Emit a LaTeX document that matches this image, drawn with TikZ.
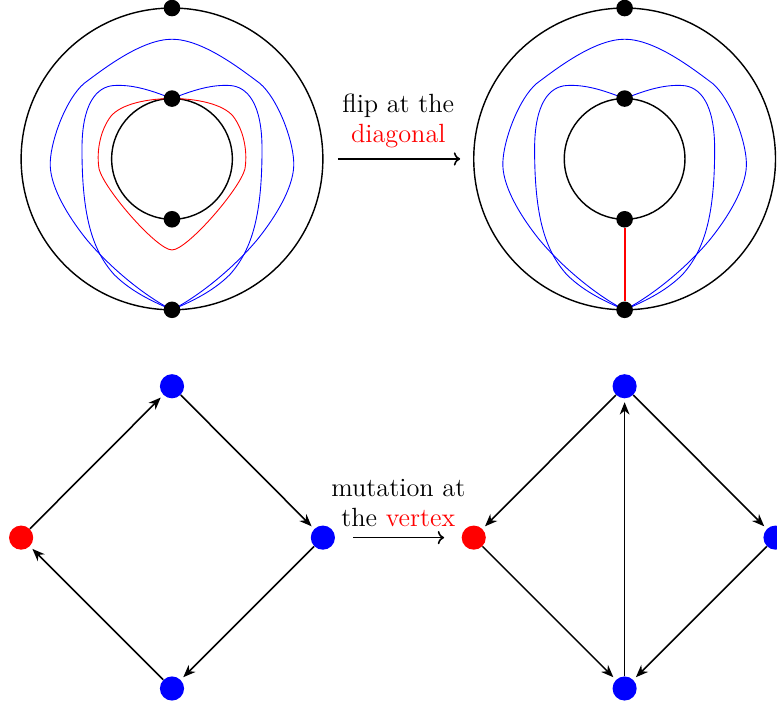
\documentclass[tikz,border=0pt]{standalone}
\usetikzlibrary{arrows.meta}
\tikzset{
  dot/.style={circle, fill=black, inner sep=0pt, minimum size=3.3mm},
  vtx/.style={circle, fill=blue, inner sep=0pt, minimum size=4.8mm},
  strand/.style={line width=0.5pt},
  quiv/.style={line width=0.9pt, -{Stealth[length=7pt, width=5.5pt, inset=2.2pt]}, shorten >=2pt},
  lbl/.style={align=center, inner sep=6pt, font=\fontsize{14.9}{17}\selectfont},
}

\begin{document}
\begin{tikzpicture}
  \useasboundingbox (-3.42,-10.89) rectangle (12.03,3.16);
  % Two annuli with the blue arcs
  \foreach \cx in {0,9} {
    \begin{scope}[shift={(\cx,0)}]
      \draw[thick] (0,0) circle (3cm);
      \draw[thick] (0,0) circle (1.2cm);
      \foreach \sx in {1,-1} {
        \begin{scope}[xscale=\sx]
          % outer arc
          \draw[blue, strand] (0,2.38) .. controls (0.6,2.38) and (1.35,1.8) .. (1.75,1.5)
            .. controls (2.1,1.2) and (2.4,0.4) .. (2.42,-0.05)
            .. controls (2.45,-0.5) and (2.1,-1.1) .. (1.7,-1.6)
            .. controls (1.2,-2.2) and (0.5,-2.75) .. (0,-3);
          % inner arc
          \draw[blue, strand] (0,1.2) .. controls (0.45,1.38) and (0.8,1.48) .. (1.15,1.46)
            .. controls (1.5,1.44) and (1.79,1.1) .. (1.79,0.2)
            .. controls (1.79,-1.1) and (1.6,-1.8) .. (1.15,-2.3)
            .. controls (0.8,-2.65) and (0.35,-2.85) .. (0,-3);
        \end{scope}
      }
    \end{scope}
  }
  % Red arc around the hole (left)
  \foreach \sx in {1,-1} {
    \begin{scope}[xscale=\sx]
      \draw[red, strand] (0,1.2) .. controls (0.6,1.2) and (1.1,1.05) .. (1.25,0.8)
        .. controls (1.45,0.5) and (1.5,0.1) .. (1.45,-0.2)
        .. controls (1.35,-0.6) and (0.3,-1.81) .. (0,-1.81);
    \end{scope}
  }
  % Marked points
  \node[dot] (L1) at (0,3) {};
  \node[dot] (L2) at (0,1.2) {};
  \node[dot] (L3) at (0,-1.2) {};
  \node[dot] (L4) at (0,-3) {};
  \node[dot] (R1) at (9,3) {};
  \node[dot] (R2) at (9,1.2) {};
  \node[dot] (R3) at (9,-1.2) {};
  \node[dot] (R4) at (9,-3) {};
  \draw[red, line width=1.1pt] (R3) -- (R4);
  % Flip arrow
  \coordinate (f1) at (3.3,0);
  \coordinate (f2) at (5.73,0);
  \draw[line width=0.9pt, ->] (f1) -- (f2);
  \node[lbl, above] (flip) at (4.5,0) {flip at the\\\textcolor{red}{diagonal}};

  % Quiver before mutation
  \node[vtx, fill=red] (qa) at (-3,-7.53) {};
  \node[vtx] (qb) at (0,-4.52) {};
  \node[vtx] (qc) at (3,-7.53) {};
  \node[vtx] (qd) at (0,-10.53) {};
  \draw[quiv] (qa) -- (qb);
  \draw[quiv] (qb) -- (qc);
  \draw[quiv] (qc) -- (qd);
  \draw[quiv] (qd) -- (qa);
  % Mutation arrow
  \coordinate (m1) at (3.6,-7.53);
  \coordinate (m2) at (5.41,-7.53);
  \draw[line width=0.9pt, ->] (m1) -- (m2);
  \node[lbl, above] (mut) at (4.5,-7.53) {mutation at\\the \textcolor{red}{vertex}};
  % Quiver after mutation
  \node[vtx, fill=red] (ma) at (6,-7.53) {};
  \node[vtx] (mb) at (9,-4.52) {};
  \node[vtx] (mc) at (12,-7.53) {};
  \node[vtx] (md) at (9,-10.53) {};
  \draw[quiv] (mb) -- (ma);
  \draw[quiv] (ma) -- (md);
  \draw[quiv] (mb) -- (mc);
  \draw[quiv] (mc) -- (md);
  \draw[quiv] (md) -- (mb);
\end{tikzpicture}
\end{document}
